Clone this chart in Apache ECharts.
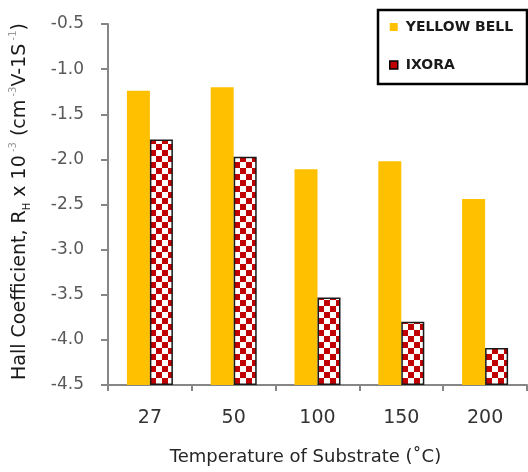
<!DOCTYPE html>
<html>
<head>
<meta charset="utf-8">
<script src="https://cdn.jsdelivr.net/npm/echarts@6/dist/echarts.min.js"></script>
<style>
html,body{margin:0;padding:0;background:#fff;}
#chart{width:528px;height:472px;}
</style>
</head>
<body>
<div id="chart"></div>
<script>
var categories = ['27', '50', '100', '150', '200'];
var yellowBell = [-1.24, -1.20, -2.11, -2.02, -2.44];
var ixora = [-1.78, -1.97, -3.53, -3.80, -4.09];
var seriesNames = ['YELLOW BELL', 'IXORA'];
var yMin = -4.5, yMax = -0.5, yStep = 0.5;

var FONT = 'DejaVu Sans';

// checkerboard pattern
var S = 6;
var pc = document.createElement('canvas');
pc.width = 2 * S; pc.height = 2 * S;
var g = pc.getContext('2d');
g.fillStyle = '#ffffff'; g.fillRect(0, 0, 2 * S, 2 * S);
g.fillStyle = '#c00000';
g.fillRect(0, 0, S, S);
g.fillRect(S, S, S, S);

var chart = echarts.init(document.getElementById('chart'), null, {renderer: 'canvas'});
chart.setOption({
  animation: false,
  backgroundColor: '#ffffff',
  grid: {left: 107, top: 24, right: 1, bottom: 87, containLabel: false},
  graphic: [{
    type: 'rect', z: 1,
    shape: {x: 378, y: 10, width: 149, height: 74},
    style: {fill: '#ffffff', stroke: '#000000', lineWidth: 2.5}
  }],
  legend: {
    orient: 'vertical', left: 384, top: 15, itemGap: 24,
    itemWidth: 8, itemHeight: 8, z: 5,
    textStyle: {fontFamily: FONT, fontSize: 14, fontWeight: 'bold', color: '#1a1a1a', padding: [0, 0, 0, 3]},
    data: [
      {name: seriesNames[0], icon: 'rect', itemStyle: {color: '#ffc000', borderWidth: 0}},
      {name: seriesNames[1], icon: 'rect', itemStyle: {color: '#c00000', borderColor: '#000', borderWidth: 1.5}}
    ]
  },
  xAxis: {
    type: 'category', data: categories,
    axisLine: {lineStyle: {color: '#868686', width: 2}},
    axisTick: {show: true, length: 6, lineStyle: {color: '#868686', width: 2}},
    axisLabel: {fontFamily: FONT, fontSize: 19, color: '#333333', margin: 24},
    name: 'Temperature of Substrate (˚C)', nameLocation: 'middle', nameGap: 63,
    nameTextStyle: {fontFamily: FONT, fontSize: 18, color: '#262626', padding: [0, 24, 0, 0]}
  },
  yAxis: {
    type: 'value', min: yMin, max: yMax, interval: yStep, startValue: yMin,
    splitLine: {show: false},
    axisLine: {show: true, lineStyle: {color: '#868686', width: 2}},
    axisTick: {show: true, length: 7, lineStyle: {color: '#868686', width: 2}},
    axisLabel: {fontFamily: FONT, fontSize: 17, color: '#595959', margin: 24,
      formatter: function (v) { return v.toFixed(1); }},
    name: 'Hall Coefficient, R{sub|H} x 10{sup| -3} (cm{sup| -3}V-1S{sup| -1})',
    nameLocation: 'middle', nameRotate: 90, nameGap: 76,
    nameTextStyle: {fontFamily: FONT, fontSize: 19, color: '#1a1a1a', lineHeight: 24,
      padding: [0, 0, 0, 6],
      rich: {
        sub: {fontFamily: FONT, fontSize: 10, color: '#1a1a1a', verticalAlign: 'bottom', lineHeight: 24},
        sup: {fontFamily: FONT, fontSize: 10, color: '#999999', verticalAlign: 'top', lineHeight: 24}
      }}
  },
  series: [
    {name: seriesNames[0], type: 'bar', data: yellowBell, barWidth: 23, barGap: '0%',
      itemStyle: {color: '#ffc000'}},
    {name: seriesNames[1], type: 'bar', data: ixora, barWidth: 23, barGap: '0%',
      itemStyle: {color: {image: pc, repeat: 'repeat'}, borderColor: '#1a1a1a', borderWidth: 1.5}}
  ]
});
</script>
</body>
</html>
